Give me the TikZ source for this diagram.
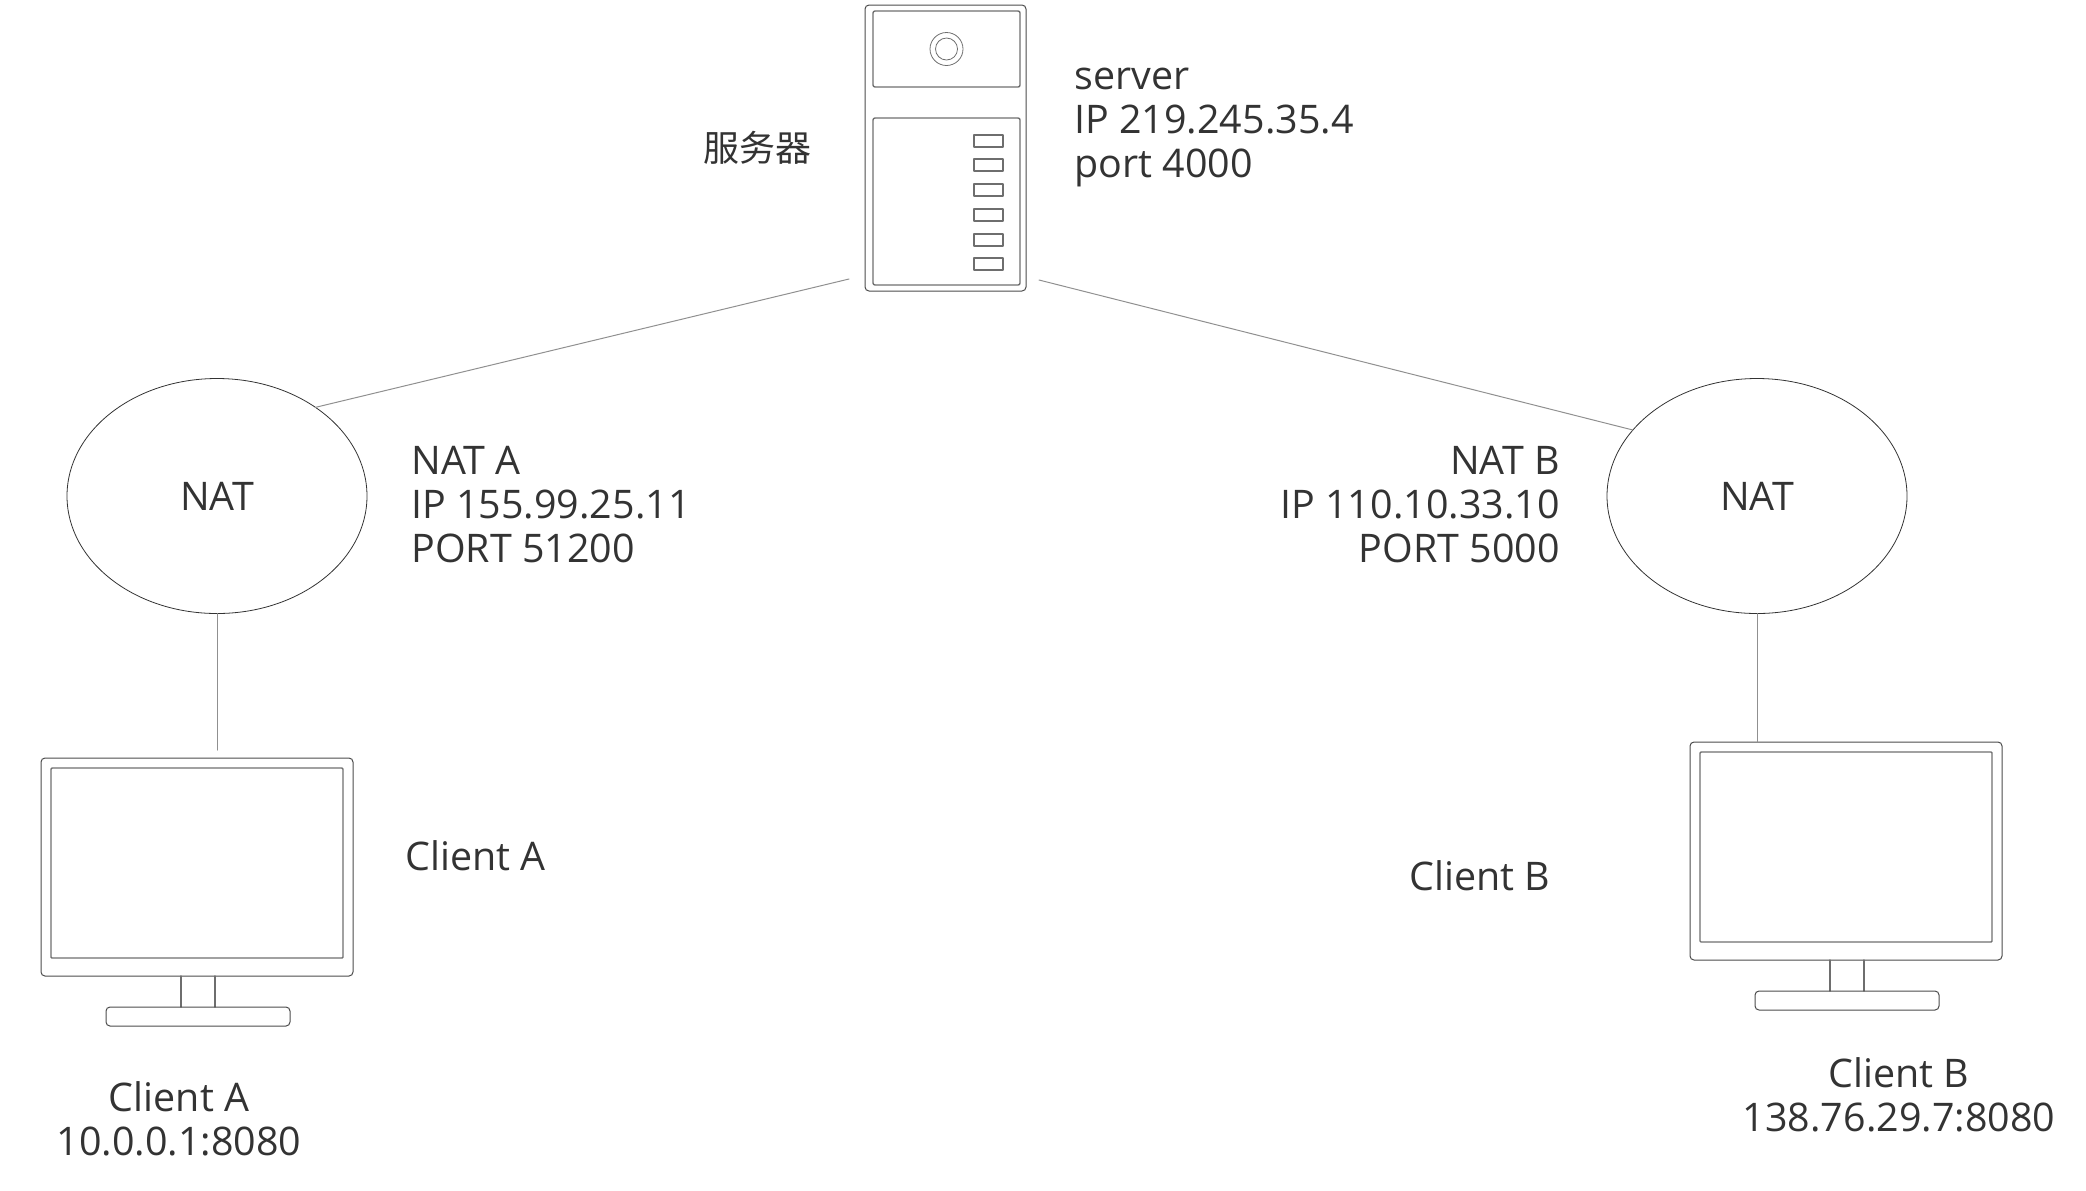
\documentclass[tikz,border=0pt]{standalone}
\usepackage{fontspec}
\setmainfont{Open Sans}
\newfontfamily\cjk{Noto Sans CJK SC}
\usetikzlibrary{shapes.geometric}

\definecolor{textgray}{HTML}{333333}
\definecolor{iconline}{HTML}{6E6E6E}
\definecolor{linkline}{HTML}{909090}

\tikzset{
	natnode/.style={ellipse, draw=black!80, line width=0.4pt, minimum width=150pt, minimum height=117.5pt, inner sep=0pt, outer sep=0pt, text=textgray, font=\fontsize{19.7}{22}\selectfont},
	info/.style={inner sep=0pt, text=textgray, font=\fontsize{19.7}{22}\selectfont},
	icon/.style={draw=iconline, line width=0.7pt},
	frame/.style={icon, draw=black!70, line width=0.5pt, rounded corners=2pt},
	link/.style={draw=linkline, line width=0.5pt}
}

\begin{document}
\begin{tikzpicture}[x=0.5pt, y=-0.5pt, line cap=round, line join=round]
	
	\useasboundingbox (0,0) rectangle (2086,1190);
	
	% server tower
	\draw[frame] (865,5) rectangle (1026,291);
	\draw[icon, rounded corners=1pt] (873,11) rectangle (1020,87);
	\draw[icon, rounded corners=1pt] (873,118) rectangle (1020,285);
	\draw[icon, line width=0.4pt] (946.5,49) circle (16.5);
	\draw[icon, line width=0.4pt] (946.5,49) circle (11);
	\foreach \sloty in {135,159,184,209,234,258}
		\draw[icon, line width=0.6pt] (974,\sloty) rectangle (1003,\sloty+12);
	
	\coordinate (srvl) at (849,279);
	\coordinate (srvr) at (1039,280);
	
	\node[info, anchor=east] (srvcn) at (812,148) {\cjk\fontsize{18}{22}\selectfont 服务器};
	\node[info, anchor=west, align=left] (srvinfo) at (1074,127) {server\\IP 219.245.35.4\\port 4000};
	
	% the two NAT boxes
	\node[natnode] (nata) at (217,496) {NAT};
	\node[natnode] (natb) at (1757,496) {NAT};
	\node[info, anchor=west, align=left] (nataip) at (411,505) {NAT A\\IP 155.99.25.11\\PORT 51200};
	\node[info, anchor=east, align=right] (natbip) at (1560,505) {NAT B\\IP 110.10.33.10\\PORT 5000};
	
	% monitors
	\foreach \ox/\oy in {41/758,1690/742} {
		\begin{scope}[shift={(\ox,\oy)}]
			\draw[frame] (0,0) rectangle (312,218);
			\draw[icon, rounded corners=0.5pt] (10,10) rectangle (302,200);
			\draw[icon] (140,218) -- (140,249);
			\draw[icon] (174,218) -- (174,249);
			\draw[frame] (65,249) rectangle (249,268);
		\end{scope}
	}
	
	\coordinate (cla) at (217,750);
	\coordinate (clb) at (1757,742);
	
	\node[info, anchor=west] (clatxt) at (405,856) {Client A};
	\node[info, anchor=west] (clbtxt) at (1409,876) {Client B};
	\node[info, align=center] (claip) at (179,1119) {Client A\\10.0.0.1:8080};
	\node[info, align=center] (clbip) at (1899,1095) {Client B\\138.76.29.7:8080};
	
	% links
	\draw[link] (srvl) -- (nata.42);
	\draw[link] (srvr) -- (natb.152);
	\draw[link] (nata.south) -- (cla);
	\draw[link] (natb.south) -- (clb);
	
\end{tikzpicture}
\end{document}
